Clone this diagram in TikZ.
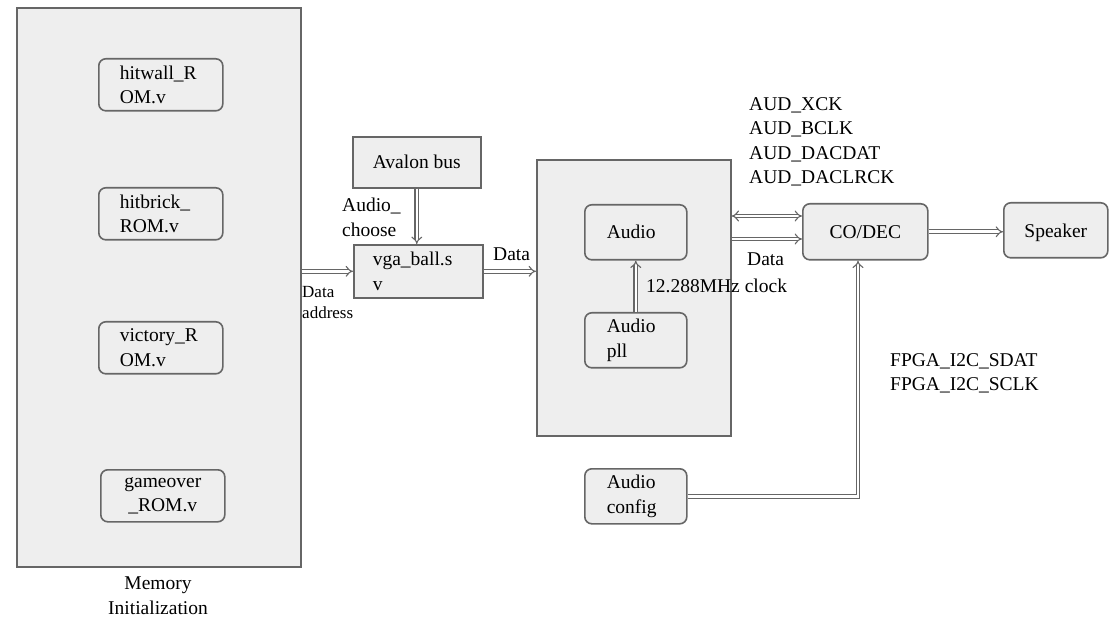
\documentclass[tikz,border=0pt]{standalone}
\usepackage{fontspec}
\setmainfont{Liberation Serif}
\usetikzlibrary{arrows.meta}
\definecolor{boxfill}{HTML}{EEEEEE}
\definecolor{edge}{HTML}{666666}
\begin{document}
\begin{tikzpicture}[x=1pt,y=-1pt,
  txt/.style={font=\fontsize{19.5}{24.5}\selectfont, text=black},
  small/.style={font=\fontsize{17}{21.5}\selectfont, text=black},
  panel/.style={draw=edge, line width=1.6pt, fill=boxfill, anchor=north west, inner sep=0pt},
  rbox/.style={txt, draw=edge, line width=1.6pt, fill=boxfill, rounded corners=7pt, anchor=north west, align=left, inner ysep=0pt},
  rombox/.style={rbox, text width=82pt, inner xsep=21pt, minimum height=52pt},
  audbox/.style={rbox, text width=58pt, inner xsep=22pt, minimum height=55pt},
  sbox/.style={txt, draw=edge, line width=1.6pt, fill=boxfill, anchor=north west, inner ysep=0pt},
  lbl/.style={txt, inner sep=0pt},
  dbl/.style={draw=edge, line width=1.1pt, double=white, double distance=2.6pt, -{Implies[scale=1.3]}},
]
\fill[white] (0,0) rectangle (1109,620);
\useasboundingbox (0,0) rectangle (1109,620);

% memory panel
\node[panel, minimum width=284pt, minimum height=559pt] (mem) at (16,7) {};
\node[rombox] (hitwall) at (98,58) {hitwall\_R\\OM.v};
\node[rombox] (hitbrick) at (98,187) {hitbrick\_\\ROM.v};
\node[rombox] (victory) at (98,321) {victory\_R\\OM.v};
\node[rombox, align=center] (gameover) at (100,469) {gameover\\\_ROM.v};
\node[lbl, anchor=north, align=center] (memlbl) at (158,577) {Memory\\Initialization};

% avalon and vga
\node[sbox, minimum width=128pt, minimum height=51pt, align=center] (avalon) at (352,136) {Avalon bus};
\node[sbox, text width=91pt, inner xsep=19pt, minimum height=53pt, align=left] (vga) at (353,244) {vga\_ball.s\\v};
\node[lbl, anchor=north west, align=left] (audch) at (342,198) {Audio\_\\choose};
\node[small, inner sep=0pt, anchor=north west, align=left] (dataaddr) at (302,286) {Data\\address};

% big panel
\node[panel, minimum width=194pt, minimum height=276pt] (big) at (536,159) {};
\node[audbox] (audio) at (584,204) {Audio};
\node[audbox] (pll) at (584,312) {Audio\\pll};
\node[lbl, anchor=base west] (clk) at (646,293) {12.288MHz clock};
\node[lbl, anchor=base west] (data1) at (493,261) {Data};

% codec, speaker, config
\node[rbox, minimum width=125pt, minimum height=56pt, align=center] (codec) at (802,203) {CO/DEC};
\node[rbox, minimum width=104pt, minimum height=55pt, align=center, text height=13.5pt, text depth=0pt] (speaker) at (1003,202) {Speaker};
\node[audbox] (config) at (584,468) {Audio\\config};
\node[lbl, anchor=base west] (data2) at (747,266) {Data};
\node[lbl, anchor=north west, align=left] (aud) at (749,97) {AUD\_XCK\\AUD\_BCLK\\AUD\_DACDAT\\AUD\_DACLRCK};
\node[lbl, anchor=north west, align=left] (fpga) at (890,353) {FPGA\_I2C\_SDAT\\FPGA\_I2C\_SCLK};

% connectors
\coordinate (r1) at (0,216);
\coordinate (r2) at (0,239);
\coordinate (kx) at (858,0);
\draw[dbl] (avalon.south) -- (avalon.south |- vga.north);
\draw[dbl] (mem.east |- vga.west) -- (vga.west);
\draw[dbl] (vga.east) -- (vga.east -| big.west);
\draw[dbl] (pll.north) -- (audio.south);
\draw[dbl, {Implies[scale=1.3]}-{Implies[scale=1.3]}] (big.east |- r1) -- (codec.west |- r1);
\draw[dbl] (big.east |- r2) -- (codec.west |- r2);
\draw[dbl] (codec.east) -- (codec.east -| speaker.west);
\draw[dbl] (config.east) -| (kx |- codec.south);
\end{tikzpicture}
\end{document}
